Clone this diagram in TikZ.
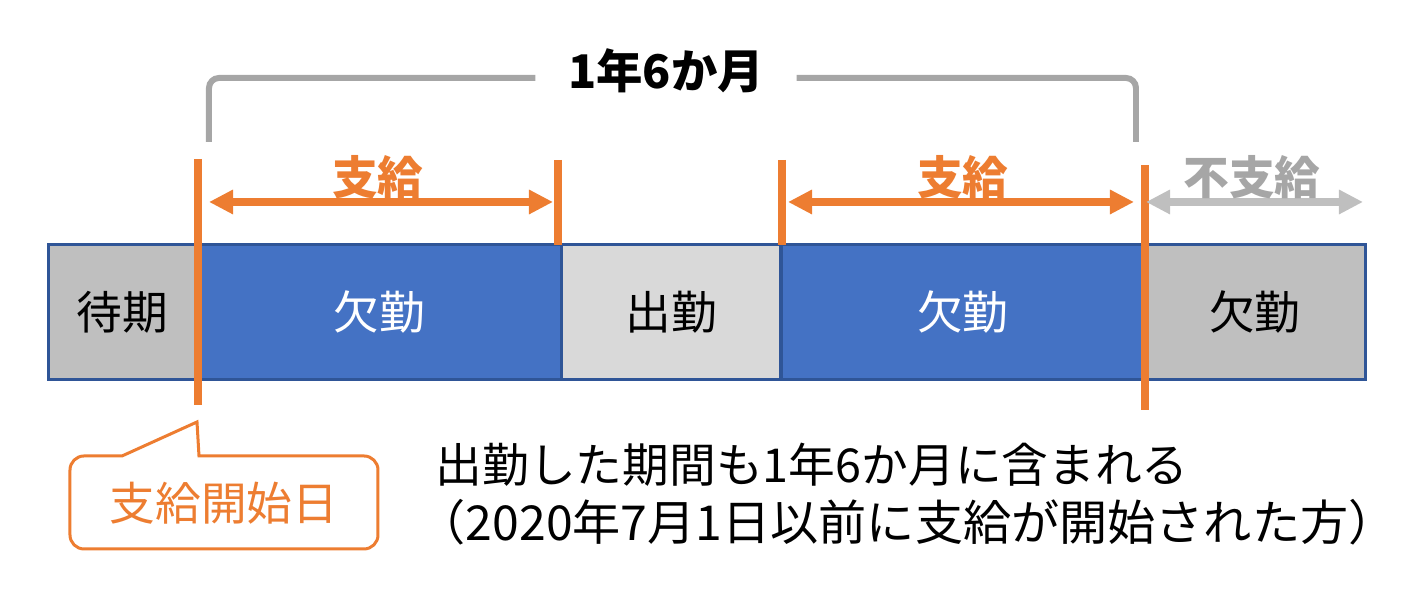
\documentclass[tikz,border=0pt]{standalone}
\usepackage{fontspec}
\setmainfont{Noto Sans CJK JP}
\usetikzlibrary{arrows.meta, calc}
\definecolor{cblue}{HTML}{4472C4}
\definecolor{cnavy}{HTML}{2F5597}
\definecolor{cgrey}{HTML}{BFBFBF}
\definecolor{clight}{HTML}{D9D9D9}
\definecolor{corange}{HTML}{ED7D31}
\definecolor{cbracket}{HTML}{A6A6A6}
\tikzset{
  every picture/.style={font=\fontsize{13pt}{15pt}\selectfont},
  seg/.style={draw=cnavy, fill=#1, line width=0.03cm, minimum height=1.35cm, inner sep=0pt, outer sep=0pt},
  seg/.default=cgrey,
  marker/.style={draw=corange, line width=0.08cm},
  span/.style={{Triangle[length=0.24cm, width=0.23cm]}-{Triangle[length=0.24cm, width=0.23cm]}, draw=#1, line width=0.08cm},
  span/.default=corange,
  paid/.style={font=\fontsize{13pt}{15pt}\selectfont\bfseries, text=#1},
  paid/.default=corange,
  bracket/.style={draw=cbracket, line width=0.06cm, rounded corners=0.1cm},
  callout/.style={draw=corange, line width=0.03cm, fill=white},
  note/.style={anchor=west, inner sep=0pt, font=\fontsize{#1}{15pt}\selectfont},
  note/.default=13.3pt,
}
\begin{document}
\begin{tikzpicture}
  \useasboundingbox (0,0) rectangle (14.1,6.1);
  % timeline
  \node[seg, minimum width=1.49cm] (wait) at (1.225,2.975) {待期};
  \node[seg=cblue, minimum width=3.65cm, text=white] (absent1) at (3.795,2.975) {欠勤};
  \node[seg=clight, minimum width=2.19cm] (work) at (6.715,2.975) {出勤};
  \node[seg=cblue, minimum width=3.64cm, text=white] (absent2) at (9.63,2.975) {欠勤};
  \node[seg, minimum width=2.20cm] (absent3) at (12.55,2.975) {欠勤};
  % markers
  \draw[marker] (1.98,4.51) -- (1.98,2.05);
  \draw[marker] (5.58,4.50) -- (5.58,3.65);
  \draw[marker] (7.82,4.50) -- (7.82,3.65);
  \draw[marker] (11.45,4.45) -- (11.45,2.00);
  % payment spans
  \coordinate (a1) at (2.09,4.08); \coordinate (b1) at (5.53,4.08);
  \coordinate (a2) at (7.88,4.08); \coordinate (b2) at (11.34,4.08);
  \coordinate (a3) at (11.46,4.08); \coordinate (b3) at (13.63,4.08);
  \draw[span] (a1) -- (b1);
  \draw[span] (a2) -- (b2);
  \draw[span=cgrey] (a3) -- (b3);
  \node[paid] (pay1) at (3.78,4.33) {支給};
  \node[paid] (pay2) at (9.63,4.33) {支給};
  \node[paid=cbracket] (nopay) at (12.52,4.33) {不支給};
  % 1.5 years
  \node[font=\fontsize{13.2pt}{15pt}\selectfont\bfseries, inner xsep=0.32cm] (period) at (6.66,5.39) {1年6か月};
  \coordinate (bl) at (2.09,4.68); \coordinate (br) at (11.36,4.68);
  \draw[bracket] (bl) |- ([yshift=-0.07cm]period.west);
  \draw[bracket] (br) |- ([yshift=-0.07cm]period.east);
  % start date callout
  \coordinate (tip) at (1.97,1.88);
  \draw[callout] (1.99,1.54) -- (tip) -- (1.22,1.54) -- (0.84,1.54) arc[start angle=90, end angle=180, radius=0.14]
    -- (0.70,0.75) arc[start angle=180, end angle=270, radius=0.14] -- (3.64,0.61) arc[start angle=270, end angle=360, radius=0.14]
    -- (3.78,1.40) arc[start angle=0, end angle=90, radius=0.14] -- cycle;
  \node[text=corange] (start) at (2.24,1.07) {支給開始日};
  % notes
  \node[note] (note1) at (4.35,1.45) {出勤した期間も1年6か月に含まれる};
  \node[note=13.7pt] (note2) at (4.17,0.88) {（2020年7月1日以前に支給が開始された方）};
\end{tikzpicture}
\end{document}
